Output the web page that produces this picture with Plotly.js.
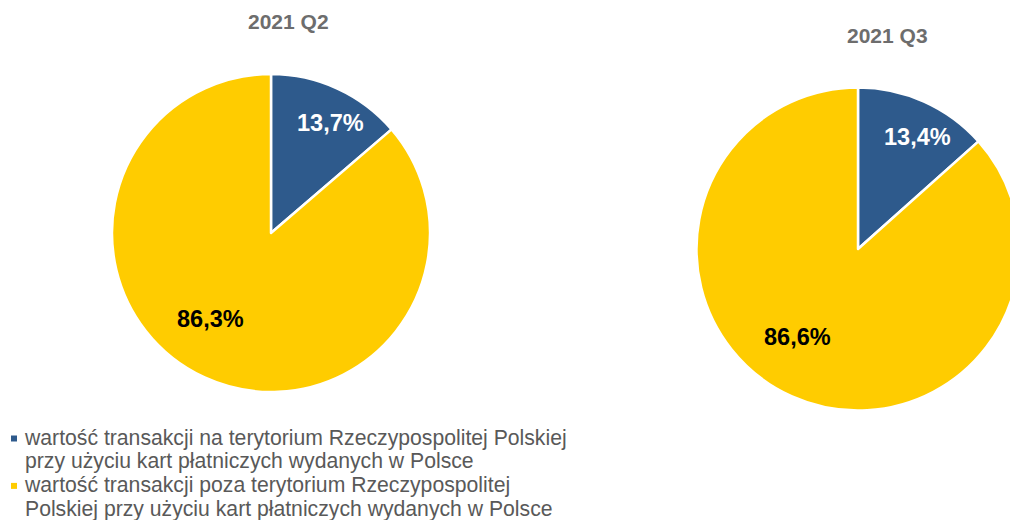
<!DOCTYPE html>
<html>
<head>
<meta charset="utf-8">
<script src="https://cdn.plot.ly/plotly-3.0.1.min.js"></script>
<style>
html, body { margin: 0; padding: 0; overflow: hidden; background: #fff; }
#chart { width: 1040px; height: 520px; }
</style>
</head>
<body>
<div id="chart"></div>
<script>
const categories = [
  'wartość transakcji na terytorium Rzeczypospolitej Polskiej<br>przy użyciu kart płatniczych wydanych w Polsce',
  'wartość transakcji poza terytorium Rzeczypospolitej<br>Polskiej przy użyciu kart płatniczych wydanych w Polsce'
];
const periods = ['2021 Q2', '2021 Q3'];
const q2Values = [13.7, 86.3];
const q3Values = [13.4, 86.6];
const sliceColors = ['#2E5A8C', '#FFCC00'];
const labelColors = ['#FFFFFF', '#000000'];

const W = 1040, H = 520;
const FONT = 'Liberation Sans, Arial, sans-serif';

// pie boxes in pixels: [left, top, size]
const pieBoxes = [[112, 74, 318], [696.5, 87.5, 323]];
// label placement style: radius fraction and angular shift (deg) per slice
const labelRadius = [0.785, 0.66];
const labelShift = [4, 10.5];

// legend text placement style (px)
const LEG_TEXT_X = 25, LEG_BASE_Y = 444.5, LEG_LINE = 23.7, LEG_SYM_X = 14, LEG_SYM_UP = 6;

function pieTrace(values, box) {
  return {
    type: 'pie',
    labels: categories,
    values: values,
    sort: false,
    direction: 'clockwise',
    rotation: 0,
    domain: { x: [box[0] / W, (box[0] + box[2]) / W], y: [1 - (box[1] + box[2]) / H, 1 - box[1] / H] },
    marker: { colors: sliceColors, line: { color: '#FFFFFF', width: 2.5 } },
    textinfo: 'none',
    hoverinfo: 'label+percent'
  };
}

function sliceLabels(values, box) {
  const total = values.reduce((a, b) => a + b, 0);
  const cx = box[0] + box[2] / 2, cy = box[1] + box[2] / 2, r = box[2] / 2;
  let cum = 0;
  return values.map((v, i) => {
    const mid = ((cum + v / 2) / total) * 360 + labelShift[i];
    cum += v;
    const a = mid * Math.PI / 180;
    const px = cx + labelRadius[i] * r * Math.sin(a);
    const py = cy - labelRadius[i] * r * Math.cos(a);
    return {
      text: (v / total * 100).toFixed(1).replace('.', ',') + '%',
      x: px / W, y: 1 - py / H, xref: 'paper', yref: 'paper',
      xanchor: 'center', yanchor: 'middle', showarrow: false,
      font: { family: FONT, size: 23.5, color: labelColors[i], weight: 'bold' }
    };
  });
}

const traces = [pieTrace(q2Values, pieBoxes[0]), pieTrace(q3Values, pieBoxes[1])];

const titleAnn = [
  { text: periods[0], x: 288 / W, y: 1 - 21.7 / H },
  { text: periods[1], x: 887 / W, y: 1 - 35.7 / H }
].map(a => Object.assign(a, {
  xref: 'paper', yref: 'paper', xanchor: 'center', yanchor: 'middle', showarrow: false,
  font: { family: FONT, size: 21, color: '#6D6D6D', weight: 'bold' }
}));

const layout = {
  width: W,
  height: H,
  margin: { l: 0, r: 0, t: 0, b: 0, autoexpand: false },
  paper_bgcolor: '#FFFFFF',
  font: { family: FONT },
  showlegend: true,
  legend: {
    x: 0, xanchor: 'left',
    y: 0, yanchor: 'bottom',
    valign: 'top',
    font: { family: FONT, size: 21.2, color: '#595959' },
    bgcolor: 'rgba(0,0,0,0)',
    tracegroupgap: 0
  },
  annotations: titleAnn
    .concat(sliceLabels(q2Values, pieBoxes[0]))
    .concat(sliceLabels(q3Values, pieBoxes[1]))
};

function parseTranslate(el) {
  const m = /translate\(\s*([-\d.eE]+)[\s,]+([-\d.eE]+)\s*\)/.exec(el.getAttribute('transform') || '');
  return m ? [parseFloat(m[1]), parseFloat(m[2])] : [0, 0];
}

Plotly.newPlot('chart', traces, layout, { displayModeBar: false, staticPlot: true }).then(gd => {
  const legend = gd.querySelector('g.legend');
  if (!legend) return;
  legend.querySelectorAll('[clip-path]').forEach(e => e.removeAttribute('clip-path'));
  const items = legend.querySelectorAll('g.traces');
  items.forEach((g, idx) => {
    const textEl = g.querySelector('text.legendtext');
    if (!textEl) return;
    const lines = textEl.querySelectorAll('tspan.line');
    lines.forEach((t, k) => { if (k > 0) t.setAttribute('dy', (k * LEG_LINE).toFixed(2)); });
    const ref = lines.length ? lines[0] : textEl;
    const tm = textEl.getCTM();
    const curX = tm.e + parseFloat(ref.getAttribute('x') || textEl.getAttribute('x') || 0);
    const curY = tm.f + parseFloat(ref.getAttribute('y') || textEl.getAttribute('y') || 0);
    const tgtY = LEG_BASE_Y + idx * 2 * LEG_LINE;
    const tr = parseTranslate(g);
    g.setAttribute('transform', 'translate(' + (tr[0] + LEG_TEXT_X - curX) + ',' + (tr[1] + tgtY - curY) + ')');
    const p = g.querySelector('path.legendpie');
    if (p) {
      p.setAttribute('d', 'M3,3H-3V-3H3Z');
      p.style.setProperty('stroke-width', '0px');
      p.style.setProperty('stroke', 'none');
      p.removeAttribute('transform');
      const pm = p.getCTM();
      p.setAttribute('transform', 'translate(' + (LEG_SYM_X - pm.e) + ',' + (tgtY - LEG_SYM_UP - pm.f) + ')');
    }
  });
});
</script>
</body>
</html>
